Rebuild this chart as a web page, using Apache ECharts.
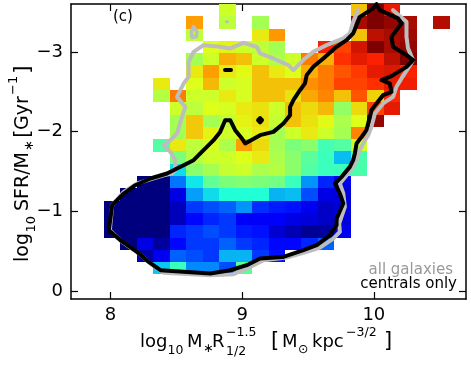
<!DOCTYPE html>
<html>
<head>
<meta charset="utf-8">
<script src="https://cdn.jsdelivr.net/npm/echarts@6/dist/echarts.min.js"></script>
<style>
  html, body { margin: 0; padding: 0; background: #fff; }
  #chart { width: 471px; height: 370px; }
</style>
</head>
<body>
<div id="chart"></div>
<script>
const _ = null;

// bin centres
const xBins = [7.7625, 7.8875, 8.0125, 8.1375, 8.2625, 8.3875, 8.5125, 8.6375, 8.7625, 8.8875, 9.0125, 9.1375,
  9.2625, 9.3875, 9.5125, 9.6375, 9.7625, 9.8875, 10.0125, 10.1375, 10.2625, 10.3875, 10.5125, 10.6375];
const yBins = [-3.523, -3.369, -3.215, -3.060, -2.906, -2.752, -2.598, -2.444, -2.290, -2.135, -1.981, -1.827,
  -1.673, -1.519, -1.365, -1.210, -1.056, -0.902, -0.748, -0.594, -0.440, -0.285, -0.131, 0.023];
const cellW = 0.125;
const cellH = 0.15417;

// colour value per bin (row 0 = top of the plot)
const cellValues = [
  [_,_,_,_,_,_,_,_,_,.60,_,_,_,_,_,_,_,.70,1.0,.90,_,_,_,_],
  [_,_,_,_,_,_,_,.74,_,.58,_,.55,_,_,_,_,_,.96,1.0,.98,.96,_,.95,_],
  [_,_,_,_,_,_,_,.58,_,_,_,.65,.75,_,_,_,_,.70,.94,.96,.97,_,_,_],
  [_,_,_,_,_,_,_,_,.62,.64,.60,.58,.55,_,_,.88,.84,.92,1.0,.96,.98,_,_,_],
  [_,_,_,_,_,_,_,.55,.60,.72,.70,.60,.56,.60,.78,.72,.86,.90,.88,.94,1.0,_,_,_],
  [_,_,_,_,_,_,_,.65,.74,.65,.63,.70,.65,.62,.72,.78,.82,.85,.90,.91,.88,_,_,_],
  [_,_,_,_,_,.65,_,.62,.71,.60,.61,.70,.70,.70,.76,.78,.84,.84,.86,.90,.89,_,_,_],
  [_,_,_,_,_,.57,.78,.60,.60,.65,.61,.70,.70,.66,.73,.77,.70,.82,.68,.87,_,_,_,_],
  [_,_,_,_,_,_,.60,.58,.62,.61,.65,.66,.60,.70,.67,.71,.53,.67,.84,.90,_,_,_,_],
  [_,_,_,_,_,_,.55,.69,.55,.58,.64,.66,.59,.70,.66,.63,.56,.62,.98,_,_,_,_,_],
  [_,_,_,_,_,_,.55,.69,.64,.60,.61,.65,.55,.60,.65,.60,.55,.77,_,_,_,_,_,_],
  [_,_,_,_,_,.45,.65,.58,.61,.56,.74,.67,.55,.50,.52,.43,.45,.60,_,_,_,_,_,_],
  [_,_,_,_,_,_,.50,.57,.60,.60,.62,.65,.56,.52,.46,.42,.31,.44,_,_,_,_,_,_],
  [_,_,_,_,_,_,.34,.52,.55,.59,.60,.56,.57,.52,.45,.42,.42,.44,_,_,_,_,_,_],
  [_,_,_,_,0,0,.24,.35,.47,.50,.51,.50,.49,.42,.27,.16,.11,_,_,_,_,_,_,_],
  [_,_,_,0,0,0,.10,.28,.34,.39,.39,.39,.30,.31,.20,.10,.09,_,_,_,_,_,_,_],
  [_,_,0,0,0,0,.06,.18,.20,.22,.27,.17,.15,.14,.11,.07,.09,_,_,_,_,_,_,_],
  [_,_,0,0,0,0,.06,.13,.16,.18,.12,.12,.12,.10,.09,.07,.09,_,_,_,_,_,_,_],
  [_,_,0,0,0,0,.16,.18,.20,.18,.15,.14,.08,.05,.02,.03,.11,_,_,_,_,_,_,_],
  [_,_,_,0,.10,.03,.13,.18,.18,.22,.18,.16,.13,.13,.16,.22,_,_,_,_,_,_,_,_],
  [_,_,_,_,.04,.11,.22,.20,.18,.30,.30,.18,.14,_,_,_,_,_,_,_,_,_,_,_],
  [_,_,_,_,_,.32,.42,.26,.26,.20,.46,_,_,_,_,_,_,_,_,_,_,_,_,_],
  [_,_,_,_,_,_,_,_,_,_,_,_,_,_,_,_,_,_,_,_,_,_,_,_],
  [_,_,_,_,_,_,_,_,_,_,_,_,_,_,_,_,_,_,_,_,_,_,_,_]
];

// contour of all galaxies (grey)
const allContour = [
  [9.881,-3.523],[9.843,-3.376],[9.818,-3.231],[9.768,-3.168],[9.641,-3.084],[9.540,-3.000],[9.477,-2.917],
  [9.427,-2.833],[9.389,-2.770],[9.351,-2.833],[9.237,-2.917],[9.136,-2.980],[9.111,-3.063],[9.010,-3.113],
  [8.909,-3.043],[8.833,-3.063],[8.707,-3.084],[8.631,-3.000],[8.593,-2.875],[8.593,-2.686],[8.556,-2.604],
  [8.505,-2.435],[8.568,-2.310],[8.543,-2.184],[8.505,-1.976],[8.455,-1.892],[8.404,-1.829],[8.455,-1.745],
  [8.492,-1.641],[8.492,-1.516],[8.467,-1.474],[8.404,-1.450],[8.303,-1.400],[8.202,-1.349],[8.101,-1.244],
  [8.013,-1.077],[7.995,-0.763],[8.088,-0.616],[8.215,-0.470],[8.303,-0.345],[8.404,-0.228],[8.758,-0.198],
  [8.934,-0.211],[9.061,-0.302],[9.162,-0.386],[9.338,-0.420],[9.490,-0.491],[9.591,-0.546],[9.692,-0.658],
  [9.742,-0.742],[9.737,-0.847],[9.780,-1.056],[9.768,-1.223],[9.742,-1.349],[9.793,-1.453],[9.843,-1.557],
  [9.869,-1.641],[9.881,-1.725],[9.919,-1.851],[9.957,-1.955],[9.982,-2.059],[10.008,-2.227],[10.071,-2.353],
  [10.146,-2.435],[10.172,-2.561],[10.210,-2.666],[10.260,-2.792],[10.298,-2.896],[10.260,-3.043],
  [10.248,-3.188],[10.248,-3.376],[10.146,-3.523]
];
const allLoop = [[8.631,-3.314],[8.657,-3.251],[8.652,-3.188],[8.619,-3.180],[8.614,-3.251],[8.631,-3.314]];
const allDot = [[8.880,-3.376],[8.888,-3.376]];

// contour of centrals only (black)
const centralContour = [
  [10.020,-3.598],[9.995,-3.545],[9.894,-3.439],[9.869,-3.335],[9.843,-3.231],[9.793,-3.147],[9.717,-3.063],
  [9.616,-2.917],[9.540,-2.812],[9.490,-2.708],[9.477,-2.604],[9.439,-2.519],[9.389,-2.394],[9.364,-2.310],
  [9.364,-2.206],[9.313,-2.102],[9.237,-1.996],[9.136,-1.955],[9.023,-1.851],[8.998,-1.913],[8.947,-2.018],
  [8.909,-2.143],[8.871,-2.143],[8.833,-1.996],[8.783,-1.892],[8.707,-1.767],[8.631,-1.641],[8.505,-1.537],
  [8.429,-1.474],[8.303,-1.411],[8.189,-1.327],[8.101,-1.223],[8.013,-1.077],[7.987,-0.763],[8.076,-0.637],
  [8.202,-0.491],[8.290,-0.365],[8.379,-0.261],[8.758,-0.220],[8.909,-0.261],[9.035,-0.324],[9.136,-0.408],
  [9.313,-0.428],[9.465,-0.512],[9.566,-0.575],[9.667,-0.700],[9.717,-0.826],[9.717,-0.910],[9.768,-1.098],
  [9.742,-1.223],[9.705,-1.349],[9.755,-1.432],[9.818,-1.557],[9.843,-1.641],[9.856,-1.725],[9.869,-1.851],
  [9.907,-1.933],[9.944,-2.018],[9.982,-2.269],[10.020,-2.353],[10.071,-2.457],[10.134,-2.498],[10.121,-2.604],
  [10.058,-2.645],[10.134,-2.695],[10.248,-2.812],[10.298,-2.896],[10.248,-2.959],[10.146,-3.063],
  [10.134,-3.188],[10.210,-3.356],[10.184,-3.419],[10.045,-3.523],[10.020,-3.598]
];
const centralDash = [[8.870,-2.772],[8.915,-2.772]];
const centralDot = [[9.121,-2.143],[9.136,-2.170],[9.151,-2.143],[9.136,-2.116],[9.121,-2.143]];

const xTicks = [8, 9, 10];
const yTicks = [-3, -2, -1, 0];

// jet colour map
const jet = ['#00007f', '#0000ff', '#0080ff', '#15ffe2', '#7bff7b', '#e2ff15', '#ff9700', '#ff2100', '#7f0000'];

const FONT = 'DejaVu Sans';
const GREY = '#bdbdbd';

const cells = [];
cellValues.forEach((row, r) => {
  row.forEach((v, c) => {
    if (v !== null) cells.push([xBins[c], yBins[r], v]);
  });
});

function renderCell(params, api) {
  const x = api.value(0);
  const y = api.value(1);
  const a = api.coord([x - cellW / 2, y - cellH / 2]);
  const b = api.coord([x + cellW / 2, y + cellH / 2]);
  const x0 = Math.round(Math.min(a[0], b[0]));
  const x1 = Math.round(Math.max(a[0], b[0]));
  const y0 = Math.round(Math.min(a[1], b[1]));
  const y1 = Math.round(Math.max(a[1], b[1]));
  return {
    type: 'rect',
    shape: { x: x0, y: y0, width: x1 - x0, height: y1 - y0 },
    style: { fill: api.visual('color') }
  };
}

function contour(data, color, width, z) {
  return {
    type: 'line',
    data: data,
    symbol: 'none',
    smooth: false,
    clip: true,
    z: z,
    lineStyle: { color: color, width: width, cap: 'round', join: 'round' },
    silent: true
  };
}

// text pieces for the axis titles: [text, x, y, size]
function piece(p) {
  return {
    type: 'text',
    x: p[1],
    y: p[2],
    style: {
      text: p[0],
      font: p[3] + 'px "' + FONT + '"',
      fill: '#000',
      textAlign: 'left',
      textVerticalAlign: 'middle'
    }
  };
}

const xTitle = [
  ['log', 140, 342, 18], ['10', 167.5, 351, 12.5], ['M', 187, 342, 18], ['\u2217', 203, 349, 12.5],
  ['R', 212, 342, 18], ['\u22121.5', 226, 333, 12.5], ['1/2', 226, 352, 12.5],
  ['[', 271, 342, 21], ['M', 282, 342, 18], ['\u2299', 298, 350, 12.5], ['kpc', 312, 342, 18],
  ['\u22123/2', 346, 333, 12.5], [']', 384, 342, 21]
];
// rotated: x runs along the text, y points right on screen
const yTitle = [
  ['log', 0, 0, 19], ['10', 29.5, 9, 13], ['SFR/M', 51, 0, 19], ['\u2217', 111, 7, 13],
  ['[', 124, 0, 22], ['Gyr', 132, 0, 19], ['\u22121', 167, -9, 13], [']', 188, 0, 22]
];

const axisBase = {
  type: 'value',
  axisLine: { show: true, onZero: false, lineStyle: { color: '#000', width: 1.5 } },
  splitLine: { show: false }
};

const chart = echarts.init(document.getElementById('chart'), null, { renderer: 'canvas' });

chart.setOption({
  animation: false,
  backgroundColor: '#fff',
  grid: { left: 71, top: 4, right: 5, bottom: 71, outerBoundsMode: 'none' },
  xAxis: [
    Object.assign({}, axisBase, {
      position: 'bottom', min: 7.7, max: 10.7,
      axisTick: { show: true, inside: true, length: 7, customValues: xTicks, lineStyle: { color: '#000', width: 1.2 } },
      axisLabel: { customValues: xTicks, fontSize: 18, fontFamily: FONT, color: '#000', margin: 7 }
    }),
    Object.assign({}, axisBase, {
      position: 'top', min: 7.7, max: 10.7,
      axisTick: { show: true, inside: true, length: 7, customValues: xTicks, lineStyle: { color: '#000', width: 1.2 } },
      axisLabel: { show: false }
    })
  ],
  yAxis: [
    Object.assign({}, axisBase, {
      position: 'left', min: -3.6, max: 0.1, inverse: true,
      axisTick: { show: true, inside: true, length: 7, customValues: yTicks, lineStyle: { color: '#000', width: 1.2 } },
      axisLabel: {
        customValues: yTicks, fontSize: 18, fontFamily: FONT, color: '#000', margin: 8,
        formatter: v => (v < 0 ? '\u2212' + Math.abs(v) : String(v))
      }
    }),
    Object.assign({}, axisBase, {
      position: 'right', min: -3.6, max: 0.1, inverse: true,
      axisTick: { show: true, inside: true, length: 7, customValues: yTicks, lineStyle: { color: '#000', width: 1.2 } },
      axisLabel: { show: false }
    })
  ],
  visualMap: {
    show: false,
    type: 'continuous',
    min: 0,
    max: 1,
    dimension: 2,
    seriesIndex: 0,
    inRange: { color: jet }
  },
  series: [
    {
      type: 'custom',
      renderItem: renderCell,
      data: cells,
      encode: { x: 0, y: 1 },
      clip: true,
      z: 1,
      silent: true
    },
    contour(allContour, GREY, 4, 3),
    contour(allLoop, GREY, 3.5, 3),
    contour(allDot, GREY, 3, 3),
    contour(centralContour, '#000', 4, 4),
    contour(centralDash, '#000', 4, 4),
    contour(centralDot, '#000', 4, 4)
  ],
  graphic: [
    {
      type: 'text', x: 113, y: 17,
      style: { text: '(c)', font: '15px "' + FONT + '"', fill: '#000', textVerticalAlign: 'middle' }
    },
    {
      type: 'text', x: 453, y: 270,
      style: { text: 'all galaxies', font: '15px "' + FONT + '"', fill: '#999', textAlign: 'right', textVerticalAlign: 'middle' }
    },
    {
      type: 'text', x: 457, y: 284,
      style: { text: 'centrals only', font: '15px "' + FONT + '"', fill: '#000', textAlign: 'right', textVerticalAlign: 'middle' }
    },
    { type: 'group', children: xTitle.map(piece) },
    { type: 'group', x: 23, y: 262, rotation: Math.PI / 2, children: yTitle.map(piece) }
  ]
});
</script>
</body>
</html>
